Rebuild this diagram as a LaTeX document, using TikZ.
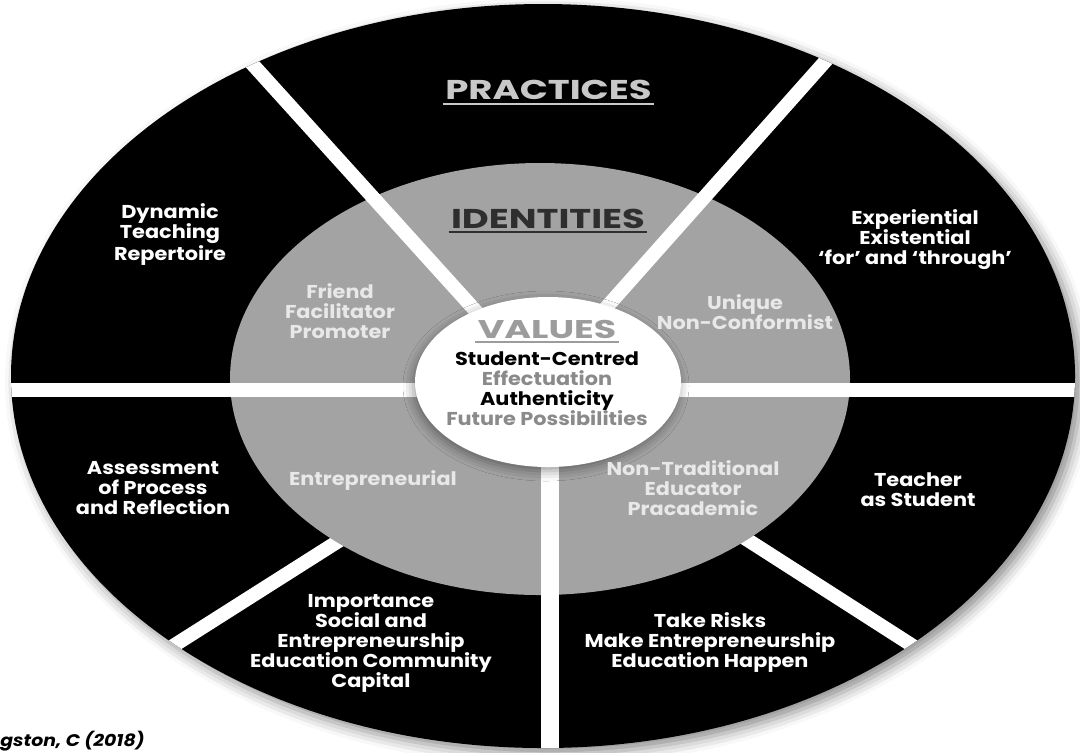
\documentclass[tikz,border=0pt]{standalone}
\usepackage{fontspec}
\setmainfont{Poppins}
\newfontfamily\bodyfont{Poppins}[FakeStretch=1.12]
\newfontfamily\headfont{Poppins}[FakeStretch=1.36]
\newfontfamily\corefont{Poppins}[FakeStretch=1.42]
\usetikzlibrary{shadows.blur}
\definecolor{ringgray}{HTML}{A3A3A3}
\definecolor{softwhite}{HTML}{E8E8E8}
\definecolor{practext}{HTML}{C8C8C8}
\definecolor{identtext}{HTML}{2E2E2E}
\definecolor{valtext}{HTML}{9C9C9C}
\definecolor{valsoft}{HTML}{8A8A8A}
\begin{document}
\begin{tikzpicture}[x=0.5pt,y=-0.5pt,
  body/.style={font=\bodyfont\fontsize{9.3}{10}\selectfont\bfseries, align=center, inner sep=0pt},
  onblack/.style={body, text=white},
  ongray/.style={body, text=softwhite},
  heading/.style={font=\headfont\fontsize{13.6}{14}\selectfont\bfseries, inner sep=0pt, anchor=base},
  valline/.style={font=\bodyfont\fontsize{9.3}{10}\selectfont\bfseries, inner sep=0pt, anchor=base},
  band/.style={white, line width=7pt},
  wideband/.style={white, line width=9pt}
]
\useasboundingbox (0,0) rectangle (1080,752);

% outer ring: practices
\fill[black, blur shadow={shadow xshift=3pt, shadow yshift=-3pt, shadow blur radius=6pt, shadow opacity=45}]
  (543,376) ellipse [x radius=532, y radius=372];

\coordinate (hub) at (540,382);
\coordinate (hubl) at (545,410);
\coordinate (ul) at (198,4);
\coordinate (ur) at (878,2);
\coordinate (ll) at (99,693);
\coordinate (lr) at (977,687);

% separators of the lower practices only
\begin{scope}
  \clip (543,376) ellipse [x radius=532, y radius=372];
  \draw[band] (hubl) -- (ll);
  \draw[band] (hubl) -- (lr);
\end{scope}

% middle ring: identities
\fill[ringgray] (540,379) ellipse [x radius=310, y radius=216];

% separators crossing both rings
\begin{scope}
  \clip (543,376) ellipse [x radius=532, y radius=372];
  \draw[band] (hub) -- (ul);
  \draw[band] (hub) -- (ur);
  \draw[band] (0,390) -- (1080,390);
  \draw[wideband] (550,382) -- (550,760);
\end{scope}

% inner core: values
\fill[white, blur shadow={shadow xshift=-1pt, shadow yshift=-2pt, shadow blur radius=5pt, shadow opacity=40}]
  (548,382) ellipse [x radius=133, y radius=85];

% headings
\node[heading, text=practext] (prac) at (548.5,99) {PRACTICES};
\draw[practext, line width=1pt] ([xshift=-1pt,yshift=-2.5pt]prac.base west) -- ([xshift=1pt,yshift=-2.5pt]prac.base east);
\node[heading, text=identtext] (ident) at (548,228) {IDENTITIES};
\draw[identtext, line width=1pt] ([xshift=-1pt,yshift=-2pt]ident.base west) -- ([xshift=1pt,yshift=-2pt]ident.base east);
\node[heading, text=valtext, font=\corefont\fontsize{12.8}{13}\selectfont\bfseries] (val) at (547,338) {VALUES};
\draw[valtext, line width=1pt] ([xshift=-1pt,yshift=-2pt]val.base west) -- ([xshift=1pt,yshift=-2pt]val.base east);

% values
\node[valline, text=black] (v1) at (547,365) {Student-Centred};
\node[valline, text=valsoft] (v2) at (547,385) {Effectuation};
\node[valline, text=black] (v3) at (547,405) {Authenticity};
\node[valline, text=valsoft] (v4) at (547,425) {Future Possibilities};

% identities
\node[ongray] (friend) at (340,311) {Friend\\Facilitator\\Promoter};
\node[ongray] (unique) at (745,312) {Unique\\Non-Conformist};
\node[ongray] (entre) at (373,481) {Entrepreneurial};
\node[ongray] (nontrad) at (693,488) {Non-Traditional\\Educator\\Pracademic};

% practices
\node[onblack] (dyn) at (170,235) {Dynamic\\Teaching\\Repertoire};
\node[onblack] (exp) at (915,240) {Experiential\\Existential\\‘for’ and ‘through’};
\node[onblack] (assess) at (153,488) {Assessment\\of Process\\and Reflection};
\node[onblack] (teach) at (918,490) {Teacher\\as Student};
\node[onblack] (imp) at (371,643) {Importance\\Social and\\Entrepreneurship\\Education Community\\Capital};
\node[onblack] (risk) at (710,643) {Take Risks\\Make Entrepreneurship\\Education Happen};

% source
\node[font=\bodyfont\fontsize{8.4}{9}\selectfont\bfseries\itshape, anchor=base west, inner sep=0pt] (src) at (0,746) {gston, C (2018)};
\end{tikzpicture}
\end{document}
